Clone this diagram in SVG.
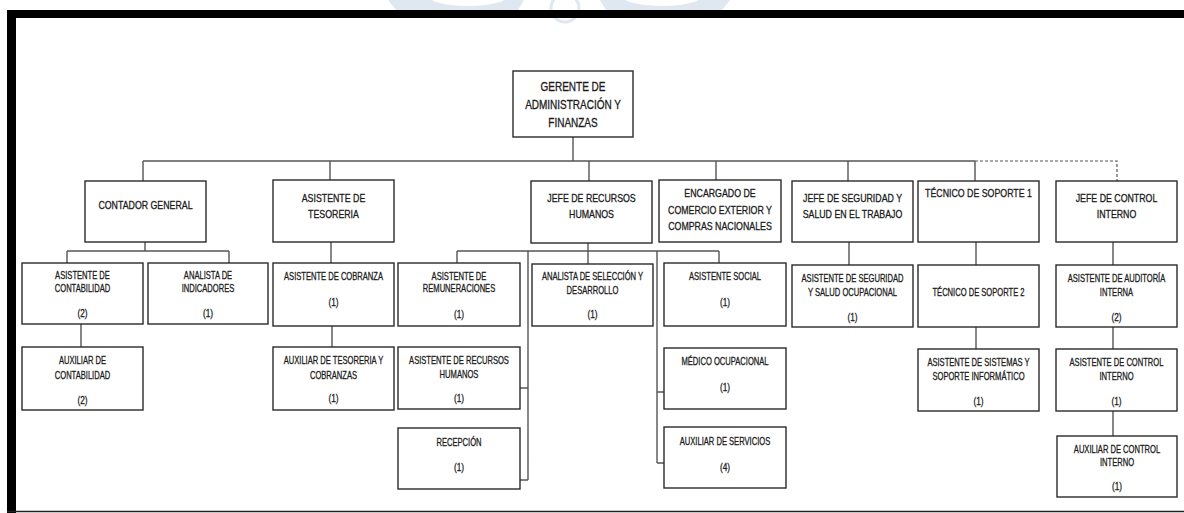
<svg xmlns="http://www.w3.org/2000/svg" width="1184" height="513" viewBox="0 0 1184 513">
<style>
.box{fill:#fff;stroke:#2a2a2a;stroke-width:1.4}
.t{font-family:"Liberation Sans",Arial,sans-serif;font-size:11px;fill:#1a1a1a;stroke:#1a1a1a;stroke-width:0.3;text-anchor:middle}
.c{fill:none;stroke:#555;stroke-width:1.4}
.d{fill:none;stroke:#555;stroke-width:1.2;stroke-dasharray:3,2}
</style>
<rect width="1184" height="513" fill="#fff"/>
<g id="watermark" fill="#dfe7f0">
<path d="M388 0 H524 L518 10 H396 Z"/>
<ellipse cx="468" cy="-4" rx="40" ry="10" fill="#fff"/>
<path d="M600 0 H730 L722 10 H606 Z"/>
<ellipse cx="662" cy="-4" rx="40" ry="10" fill="#fff"/>
<circle cx="565" cy="8" r="14" fill="none" stroke="#dfe7f0" stroke-width="3"/>
</g>
<g id="frame">
<rect x="7" y="10" width="1177" height="8" fill="#000"/>
<rect x="7" y="10" width="9" height="503" fill="#000"/>
<line x1="7" y1="511.5" x2="1184" y2="511.5" stroke="#222" stroke-width="1.6"/>
</g>
<g id="connectors">
<path class="c" d="M573 137V161M143 161H975M143 161V181M330 161V180M589 161V181M716 161V180M848 161V181M975 161V181"/>
<path class="d" d="M975 161H1117V181"/>
<path class="c" d="M145 242V251M67 251H229M67 251V263M229 251V263M81 324V347"/>
<path class="c" d="M331 242V263M332 326V347"/>
<path class="c" d="M588 243V251M457 251H719M457 251V263M588 251V264M719 251V263M528 251V480M520 388H528M520 480H528M657 251V463M657 392H664M657 463H664"/>
<path class="c" d="M849 242V265M976 242V265M976 327V349M1113 242V265M1113 327V349M1113 411V436"/>
</g>
<g id="gerente"><rect class="box" x="513" y="71" width="120" height="66"/>
<text class="t" transform="translate(573,90.5) scale(.8,1)" style="font-size:12.5px">GERENTE DE</text>
<text class="t" transform="translate(573,109) scale(.8,1)" style="font-size:12.5px">ADMINISTRACIÓN Y</text>
<text class="t" transform="translate(573,127) scale(.8,1)" style="font-size:12.5px">FINANZAS</text></g>
<g id="contador"><rect class="box" x="85" y="181" width="121" height="61"/>
<text class="t" transform="translate(145.5,209) scale(.8,1)">CONTADOR GENERAL</text></g>
<g id="tesoreria"><rect class="box" x="273" y="180" width="121" height="62"/>
<text class="t" transform="translate(333.5,202) scale(.8,1)">ASISTENTE DE</text>
<text class="t" transform="translate(333.5,218) scale(.8,1)">TESORERIA</text></g>
<g id="jefe-rrhh"><rect class="box" x="531" y="181" width="121" height="62"/>
<text class="t" transform="translate(591.5,202) scale(.8,1)">JEFE DE RECURSOS</text>
<text class="t" transform="translate(591.5,218) scale(.8,1)">HUMANOS</text></g>
<g id="encargado"><rect class="box" x="659" y="180" width="122" height="62"/>
<text class="t" transform="translate(720,197) scale(.8,1)">ENCARGADO DE</text>
<text class="t" transform="translate(720,214) scale(.8,1)">COMERCIO EXTERIOR Y</text>
<text class="t" transform="translate(720,230) scale(.8,1)">COMPRAS NACIONALES</text></g>
<g id="jefe-seguridad"><rect class="box" x="792" y="181" width="121" height="61"/>
<text class="t" transform="translate(852.5,202) scale(.8,1)">JEFE DE SEGURIDAD Y</text>
<text class="t" transform="translate(852.5,218) scale(.8,1)">SALUD EN EL TRABAJO</text></g>
<g id="tecnico1"><rect class="box" x="918" y="181" width="121" height="61"/>
<text class="t" transform="translate(978.5,197) scale(.8,1)">TÉCNICO DE SOPORTE 1</text></g>
<g id="jefe-control"><rect class="box" x="1056" y="181" width="121" height="61"/>
<text class="t" transform="translate(1116.5,202) scale(.8,1)">JEFE DE CONTROL</text>
<text class="t" transform="translate(1116.5,218) scale(.8,1)">INTERNO</text></g>
<g id="asis-contabilidad"><rect class="box" x="22" y="263" width="121" height="61"/>
<text class="t" transform="translate(82.5,279) scale(.69,1)">ASISTENTE DE</text>
<text class="t" transform="translate(82.5,292) scale(.69,1)">CONTABILIDAD</text>
<text class="t" transform="translate(82.5,317) scale(.75,1)">(2)</text></g>
<g id="analista-indicadores"><rect class="box" x="148" y="263" width="120" height="61"/>
<text class="t" transform="translate(208,279) scale(.69,1)">ANALISTA DE</text>
<text class="t" transform="translate(208,292) scale(.69,1)">INDICADORES</text>
<text class="t" transform="translate(208,317) scale(.75,1)">(1)</text></g>
<g id="asis-cobranza"><rect class="box" x="273" y="263" width="121" height="63"/>
<text class="t" transform="translate(333.5,280) scale(.69,1)">ASISTENTE DE COBRANZA</text>
<text class="t" transform="translate(333.5,306) scale(.75,1)">(1)</text></g>
<g id="asis-remuneraciones"><rect class="box" x="398" y="263" width="122" height="63"/>
<text class="t" transform="translate(459,280) scale(.69,1)">ASISTENTE DE</text>
<text class="t" transform="translate(459,292) scale(.69,1)">REMUNERACIONES</text>
<text class="t" transform="translate(459,318) scale(.75,1)">(1)</text></g>
<g id="analista-seleccion"><rect class="box" x="532" y="264" width="121" height="62"/>
<text class="t" transform="translate(592.5,280) scale(.69,1)">ANALISTA DE SELECCIÓN Y</text>
<text class="t" transform="translate(592.5,294) scale(.69,1)">DESARROLLO</text>
<text class="t" transform="translate(592.5,318) scale(.75,1)">(1)</text></g>
<g id="asis-social"><rect class="box" x="664" y="263" width="122" height="63"/>
<text class="t" transform="translate(725,280) scale(.69,1)">ASISTENTE SOCIAL</text>
<text class="t" transform="translate(725,306) scale(.75,1)">(1)</text></g>
<g id="asis-seguridad"><rect class="box" x="792" y="265" width="121" height="62"/>
<text class="t" transform="translate(852.5,282) scale(.69,1)">ASISTENTE DE SEGURIDAD</text>
<text class="t" transform="translate(852.5,296) scale(.69,1)">Y SALUD OCUPACIONAL</text>
<text class="t" transform="translate(852.5,321) scale(.75,1)">(1)</text></g>
<g id="tecnico2"><rect class="box" x="918" y="265" width="121" height="62"/>
<text class="t" transform="translate(978.5,296) scale(.69,1)">TÉCNICO DE SOPORTE 2</text></g>
<g id="asis-auditoria"><rect class="box" x="1056" y="265" width="121" height="62"/>
<text class="t" transform="translate(1116.5,282) scale(.69,1)">ASISTENTE DE AUDITORÍA</text>
<text class="t" transform="translate(1116.5,296) scale(.69,1)">INTERNA</text>
<text class="t" transform="translate(1116.5,321) scale(.75,1)">(2)</text></g>
<g id="aux-contabilidad"><rect class="box" x="22" y="347" width="121" height="63"/>
<text class="t" transform="translate(82.5,364) scale(.69,1)">AUXILIAR DE</text>
<text class="t" transform="translate(82.5,379) scale(.69,1)">CONTABILIDAD</text>
<text class="t" transform="translate(82.5,404) scale(.75,1)">(2)</text></g>
<g id="aux-tesoreria"><rect class="box" x="273" y="347" width="121" height="63"/>
<text class="t" transform="translate(333.5,364) scale(.69,1)">AUXILIAR DE TESORERIA Y</text>
<text class="t" transform="translate(333.5,379) scale(.69,1)">COBRANZAS</text>
<text class="t" transform="translate(333.5,402) scale(.75,1)">(1)</text></g>
<g id="asis-rrhh"><rect class="box" x="398" y="347" width="122" height="62"/>
<text class="t" transform="translate(459,364) scale(.69,1)">ASISTENTE DE RECURSOS</text>
<text class="t" transform="translate(459,378) scale(.69,1)">HUMANOS</text>
<text class="t" transform="translate(459,402) scale(.75,1)">(1)</text></g>
<g id="medico"><rect class="box" x="664" y="348" width="122" height="61"/>
<text class="t" transform="translate(725,365) scale(.69,1)">MÉDICO OCUPACIONAL</text>
<text class="t" transform="translate(725,391) scale(.75,1)">(1)</text></g>
<g id="asis-sistemas"><rect class="box" x="918" y="349" width="121" height="62"/>
<text class="t" transform="translate(978.5,366) scale(.69,1)">ASISTENTE DE SISTEMAS Y</text>
<text class="t" transform="translate(978.5,380) scale(.69,1)">SOPORTE INFORMÁTICO</text>
<text class="t" transform="translate(978.5,405) scale(.75,1)">(1)</text></g>
<g id="asis-control"><rect class="box" x="1056" y="349" width="121" height="62"/>
<text class="t" transform="translate(1116.5,366) scale(.69,1)">ASISTENTE DE CONTROL</text>
<text class="t" transform="translate(1116.5,380) scale(.69,1)">INTERNO</text>
<text class="t" transform="translate(1116.5,405) scale(.75,1)">(1)</text></g>
<g id="recepcion"><rect class="box" x="398" y="428" width="122" height="61"/>
<text class="t" transform="translate(459,446) scale(.69,1)">RECEPCIÓN</text>
<text class="t" transform="translate(459,471) scale(.75,1)">(1)</text></g>
<g id="aux-servicios"><rect class="box" x="664" y="427" width="122" height="61"/>
<text class="t" transform="translate(725,445) scale(.69,1)">AUXILIAR DE SERVICIOS</text>
<text class="t" transform="translate(725,471) scale(.75,1)">(4)</text></g>
<g id="aux-control"><rect class="box" x="1057" y="436" width="120" height="61"/>
<text class="t" transform="translate(1117,453) scale(.69,1)">AUXILIAR DE CONTROL</text>
<text class="t" transform="translate(1117,466) scale(.69,1)">INTERNO</text>
<text class="t" transform="translate(1117,490) scale(.75,1)">(1)</text></g>
</svg>
